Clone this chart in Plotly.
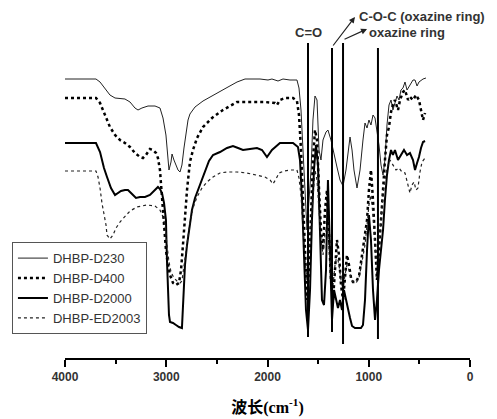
import plotly.graph_objects as go

# FTIR spectra, wavenumber (cm-1) and transmittance (a.u.)
d230_wn = [4000, 3694, 3654, 3605, 3556, 3506, 3408, 3358, 3309, 3279, 3240, 3180, 3111, 3062, 3032, 3003,
           2983, 2973, 2953, 2943, 2924, 2904, 2884, 2864, 2845, 2825, 2805, 2785, 2766, 2716, 2637, 2568,
           2489, 2390, 2301, 2222, 2074, 1995, 1956, 1896, 1847, 1778, 1709, 1689, 1669, 1649, 1630, 1610,
           1590, 1570, 1551, 1531, 1511, 1491, 1472, 1452, 1422, 1403, 1373, 1343, 1314, 1284, 1254, 1225,
           1205, 1185, 1165, 1146, 1116, 1086, 1057, 1037, 1017, 998, 978, 958, 938, 919, 899, 879, 859, 840,
           820, 800, 780, 761, 741, 721, 701, 682, 662, 642, 622, 602, 583, 563, 543, 523, 504, 484, 464, 435]
d230_t = [279, 279, 276, 270, 263, 260, 259, 256, 250, 248, 250, 252, 252, 250, 240, 223,
          203, 188, 196, 204, 198, 192, 188, 186, 193, 210, 226, 238, 244, 251, 257, 261,
          266, 271, 276, 279, 279, 278, 279, 277, 279, 278, 278, 270, 248, 208, 158, 128,
          158, 188, 238, 262, 258, 208, 198, 218, 226, 228, 218, 203, 191, 178, 172, 188,
          208, 221, 208, 188, 170, 188, 218, 235, 230, 238, 233, 243, 240, 228, 213, 193, 183, 198,
          233, 253, 258, 248, 256, 262, 258, 268, 270, 276, 268, 271, 274, 278, 278, 272, 276, 278, 279, 280]

d400_wn = [4000, 3694, 3654, 3625, 3585, 3556, 3506, 3457, 3408, 3358, 3309, 3259, 3230, 3200, 3161, 3131,
           3101, 3082, 3062, 3042, 3022, 3003, 2983, 2963, 2933, 2904, 2874, 2854, 2835, 2815, 2795, 2766,
           2736, 2696, 2637, 2548, 2440, 2301, 2173, 2025, 1926, 1906, 1877, 1827, 1748, 1709, 1689, 1669,
           1649, 1630, 1610, 1590, 1570, 1551, 1531, 1511, 1491, 1472, 1452, 1432, 1412, 1393, 1373, 1353,
           1333, 1314, 1294, 1274, 1254, 1235, 1215, 1195, 1175, 1156, 1126, 1096, 1077, 1057, 1037, 1017,
           998, 978, 958, 938, 919, 899, 879, 859, 840, 820, 800, 780, 761, 741, 711, 691, 662, 642, 612,
           593, 563, 533, 504, 484, 464, 444]
d400_t = [260, 260, 255, 248, 238, 231, 223, 218, 215, 211, 205, 201, 200, 203, 209, 208,
          205, 200, 188, 163, 133, 108, 93, 83, 75, 73, 75, 88, 113, 143, 168, 196,
          208, 220, 231, 240, 248, 256, 256, 256, 255, 253, 258, 260, 260, 257, 243, 208,
          158, 98, 58, 88, 148, 198, 228, 218, 168, 128, 108, 148, 168, 118, 78, 58,
          88, 118, 103, 73, 58, 83, 103, 93, 80, 76, 76, 82, 96, 113, 123, 138,
          168, 188, 158, 108, 78, 108, 143, 168, 198, 223, 231, 246, 253, 258, 248, 258, 266, 268, 258,
          261, 258, 263, 258, 248, 238, 245]

d2000_wn = [4000, 3694, 3654, 3615, 3585, 3546, 3506, 3477, 3447, 3408, 3378, 3338, 3299, 3259, 3210, 3161,
            3111, 3082, 3062, 3042, 3022, 3003, 2993, 2983, 2973, 2963, 2933, 2904, 2874, 2845, 2835, 2815,
            2795, 2775, 2746, 2716, 2686, 2647, 2608, 2578, 2538, 2469, 2400, 2341, 2291, 2242, 2173, 2104,
            2054, 2005, 1956, 1877, 1798, 1748, 1699, 1679, 1659, 1640, 1620, 1600, 1580, 1561, 1541, 1521,
            1501, 1482, 1462, 1442, 1422, 1403, 1383, 1363, 1343, 1324, 1304, 1284, 1264, 1245, 1225, 1205,
            1185, 1165, 1136, 1106, 1077, 1057, 1037, 1017, 998, 978, 958, 938, 919, 899, 879, 859, 840,
            820, 800, 780, 761, 741, 711, 682, 652, 622, 593, 563, 543, 523, 504, 484, 464, 444]
d2000_t = [215, 215, 206, 190, 181, 170, 163, 165, 167, 168, 168, 164, 160, 161, 161, 163,
           168, 171, 169, 165, 155, 138, 98, 58, 43, 36, 35, 33, 31, 30, 58, 93,
           113, 128, 148, 160, 168, 178, 188, 197, 203, 206, 210, 212, 210, 208, 209, 210,
           208, 201, 208, 215, 215, 215, 211, 198, 158, 98, 48, 28, 68, 138, 188, 213,
           193, 128, 58, 53, 88, 178, 118, 38, 68, 58, 50, 58, 48, 68, 58, 48,
           40, 32, 30, 30, 30, 33, 58, 108, 143, 118, 68, 38, 58, 88, 108, 128, 158,
           183, 198, 208, 203, 208, 198, 203, 208, 203, 205, 198, 188, 195, 201, 210, 216, 217]

ed2003_wn = [4000, 3694, 3674, 3654, 3635, 3615, 3595, 3585, 3556, 3526, 3496, 3457, 3408, 3358, 3289, 3190,
             3111, 3062, 3032, 3012, 2993, 2973, 2953, 2924, 2894, 2864, 2845, 2825, 2805, 2785, 2766, 2736,
             2696, 2647, 2598, 2538, 2469, 2400, 2301, 2203, 2104, 2025, 1975, 1946, 1916, 1886, 1837, 1778,
             1709, 1689, 1669, 1649, 1630, 1610, 1590, 1570, 1551, 1531, 1511, 1491, 1472, 1452, 1432, 1412,
             1393, 1373, 1353, 1333, 1314, 1294, 1274, 1254, 1235, 1215, 1195, 1175, 1156, 1126, 1096, 1077,
             1057, 1037, 1017, 998, 978, 958, 938, 919, 899, 879, 859, 840, 820, 790, 761, 731, 701, 672,
             642, 612, 593, 573, 553, 533, 514, 494, 474, 444]
ed2003_t = [187, 187, 181, 170, 155, 145, 133, 123, 119, 123, 130, 136, 142, 147, 151, 153,
            152, 148, 141, 133, 113, 96, 86, 80, 77, 75, 77, 93, 108, 123, 136, 150,
            161, 170, 176, 181, 185, 186, 186, 185, 183, 181, 178, 174, 179, 185, 187, 188,
            188, 180, 163, 128, 98, 78, 108, 138, 168, 188, 178, 143, 118, 103, 123, 133,
            108, 88, 73, 93, 103, 93, 78, 68, 83, 93, 88, 80, 76, 75, 80, 90,
            103, 113, 133, 153, 163, 143, 113, 93, 113, 143, 163, 178, 190, 198, 193, 188, 190, 186,
            185, 173, 165, 173, 176, 168, 170, 186, 196, 200]

names = ["DHBP-D230", "DHBP-D400", "DHBP-D2000", "DHBP-ED2003"]

# marked bands
band_wn = [1600, 1363, 1254, 909]
band_top = [315, 310, 315, 310]
band_bottom = [21, 26, 14, 19]

fig = go.Figure()
fig.add_trace(go.Scatter(x=d230_wn, y=d230_t, name=names[0], mode="lines",
                         line=dict(color="#222", width=1)))
fig.add_trace(go.Scatter(x=d400_wn, y=d400_t, name=names[1], mode="lines",
                         line=dict(color="black", width=2.5, dash="dot")))
fig.add_trace(go.Scatter(x=d2000_wn, y=d2000_t, name=names[2], mode="lines",
                         line=dict(color="black", width=2)))
fig.add_trace(go.Scatter(x=ed2003_wn, y=ed2003_t, name=names[3], mode="lines",
                         line=dict(color="#222", width=1.2, dash="dot")))

for xw, top, bot in zip(band_wn, band_top, band_bottom):
    fig.add_shape(type="line", xref="x", yref="y", x0=xw, x1=xw, y0=bot, y1=top,
                  line=dict(color="black", width=2))

lab = dict(family="Arial", size=13, color="#333", weight="bold")
fig.add_annotation(x=1600, y=326, text="C=O", showarrow=False, font=lab,
                   xanchor="center", yanchor="middle")
fig.add_annotation(x=1116, y=342, text="C-O-C (oxazine ring)", showarrow=False, font=lab,
                   xanchor="left", yanchor="middle")
fig.add_annotation(x=1017, y=326, text="oxazine ring", showarrow=False, font=lab,
                   xanchor="left", yanchor="middle")
# arrows from the band lines to the labels
fig.add_annotation(x=1136, y=341, ax=1363, ay=311, axref="x", ayref="y", text="",
                   showarrow=True, arrowhead=2, arrowsize=1, arrowwidth=1.2, arrowcolor="#222")
fig.add_annotation(x=1017, y=329, ax=1254, ay=318, axref="x", ayref="y", text="",
                   showarrow=True, arrowhead=2, arrowsize=1, arrowwidth=1.2, arrowcolor="#222")

# the page body adds 8px around the figure, so the figure is 8px smaller
fig.update_layout(
    width=489, height=411,
    margin=dict(l=57, r=27, t=0, b=61),
    plot_bgcolor="white", paper_bgcolor="white",
    showlegend=True,
    legend=dict(x=-0.131, y=0.331, xanchor="left", yanchor="top",
                bordercolor="#555", borderwidth=1, bgcolor="white",
                font=dict(family="Arial", size=13, color="#333"),
                tracegroupgap=0),
)
fig.update_xaxes(range=[4000, 0], showline=True, linecolor="black", linewidth=2,
                 showgrid=False, zeroline=False,
                 ticks="outside", ticklen=7, tickwidth=2, tickcolor="black",
                 tickvals=[4000, 3000, 2000, 1000, 0],
                 minor=dict(ticks="outside", ticklen=4, tickwidth=2, tickcolor="black", dtick=500),
                 tickfont=dict(family="Arial", size=12, color="#333", weight="bold"),
                 title=dict(text="波长(cm<sup>-1</sup>)", standoff=18,
                            font=dict(family="Liberation Serif, Noto Sans CJK SC", size=16,
                                      color="black", weight="bold")))
fig.update_yaxes(range=[0, 350], visible=False)

fig.write_html("out.html")
